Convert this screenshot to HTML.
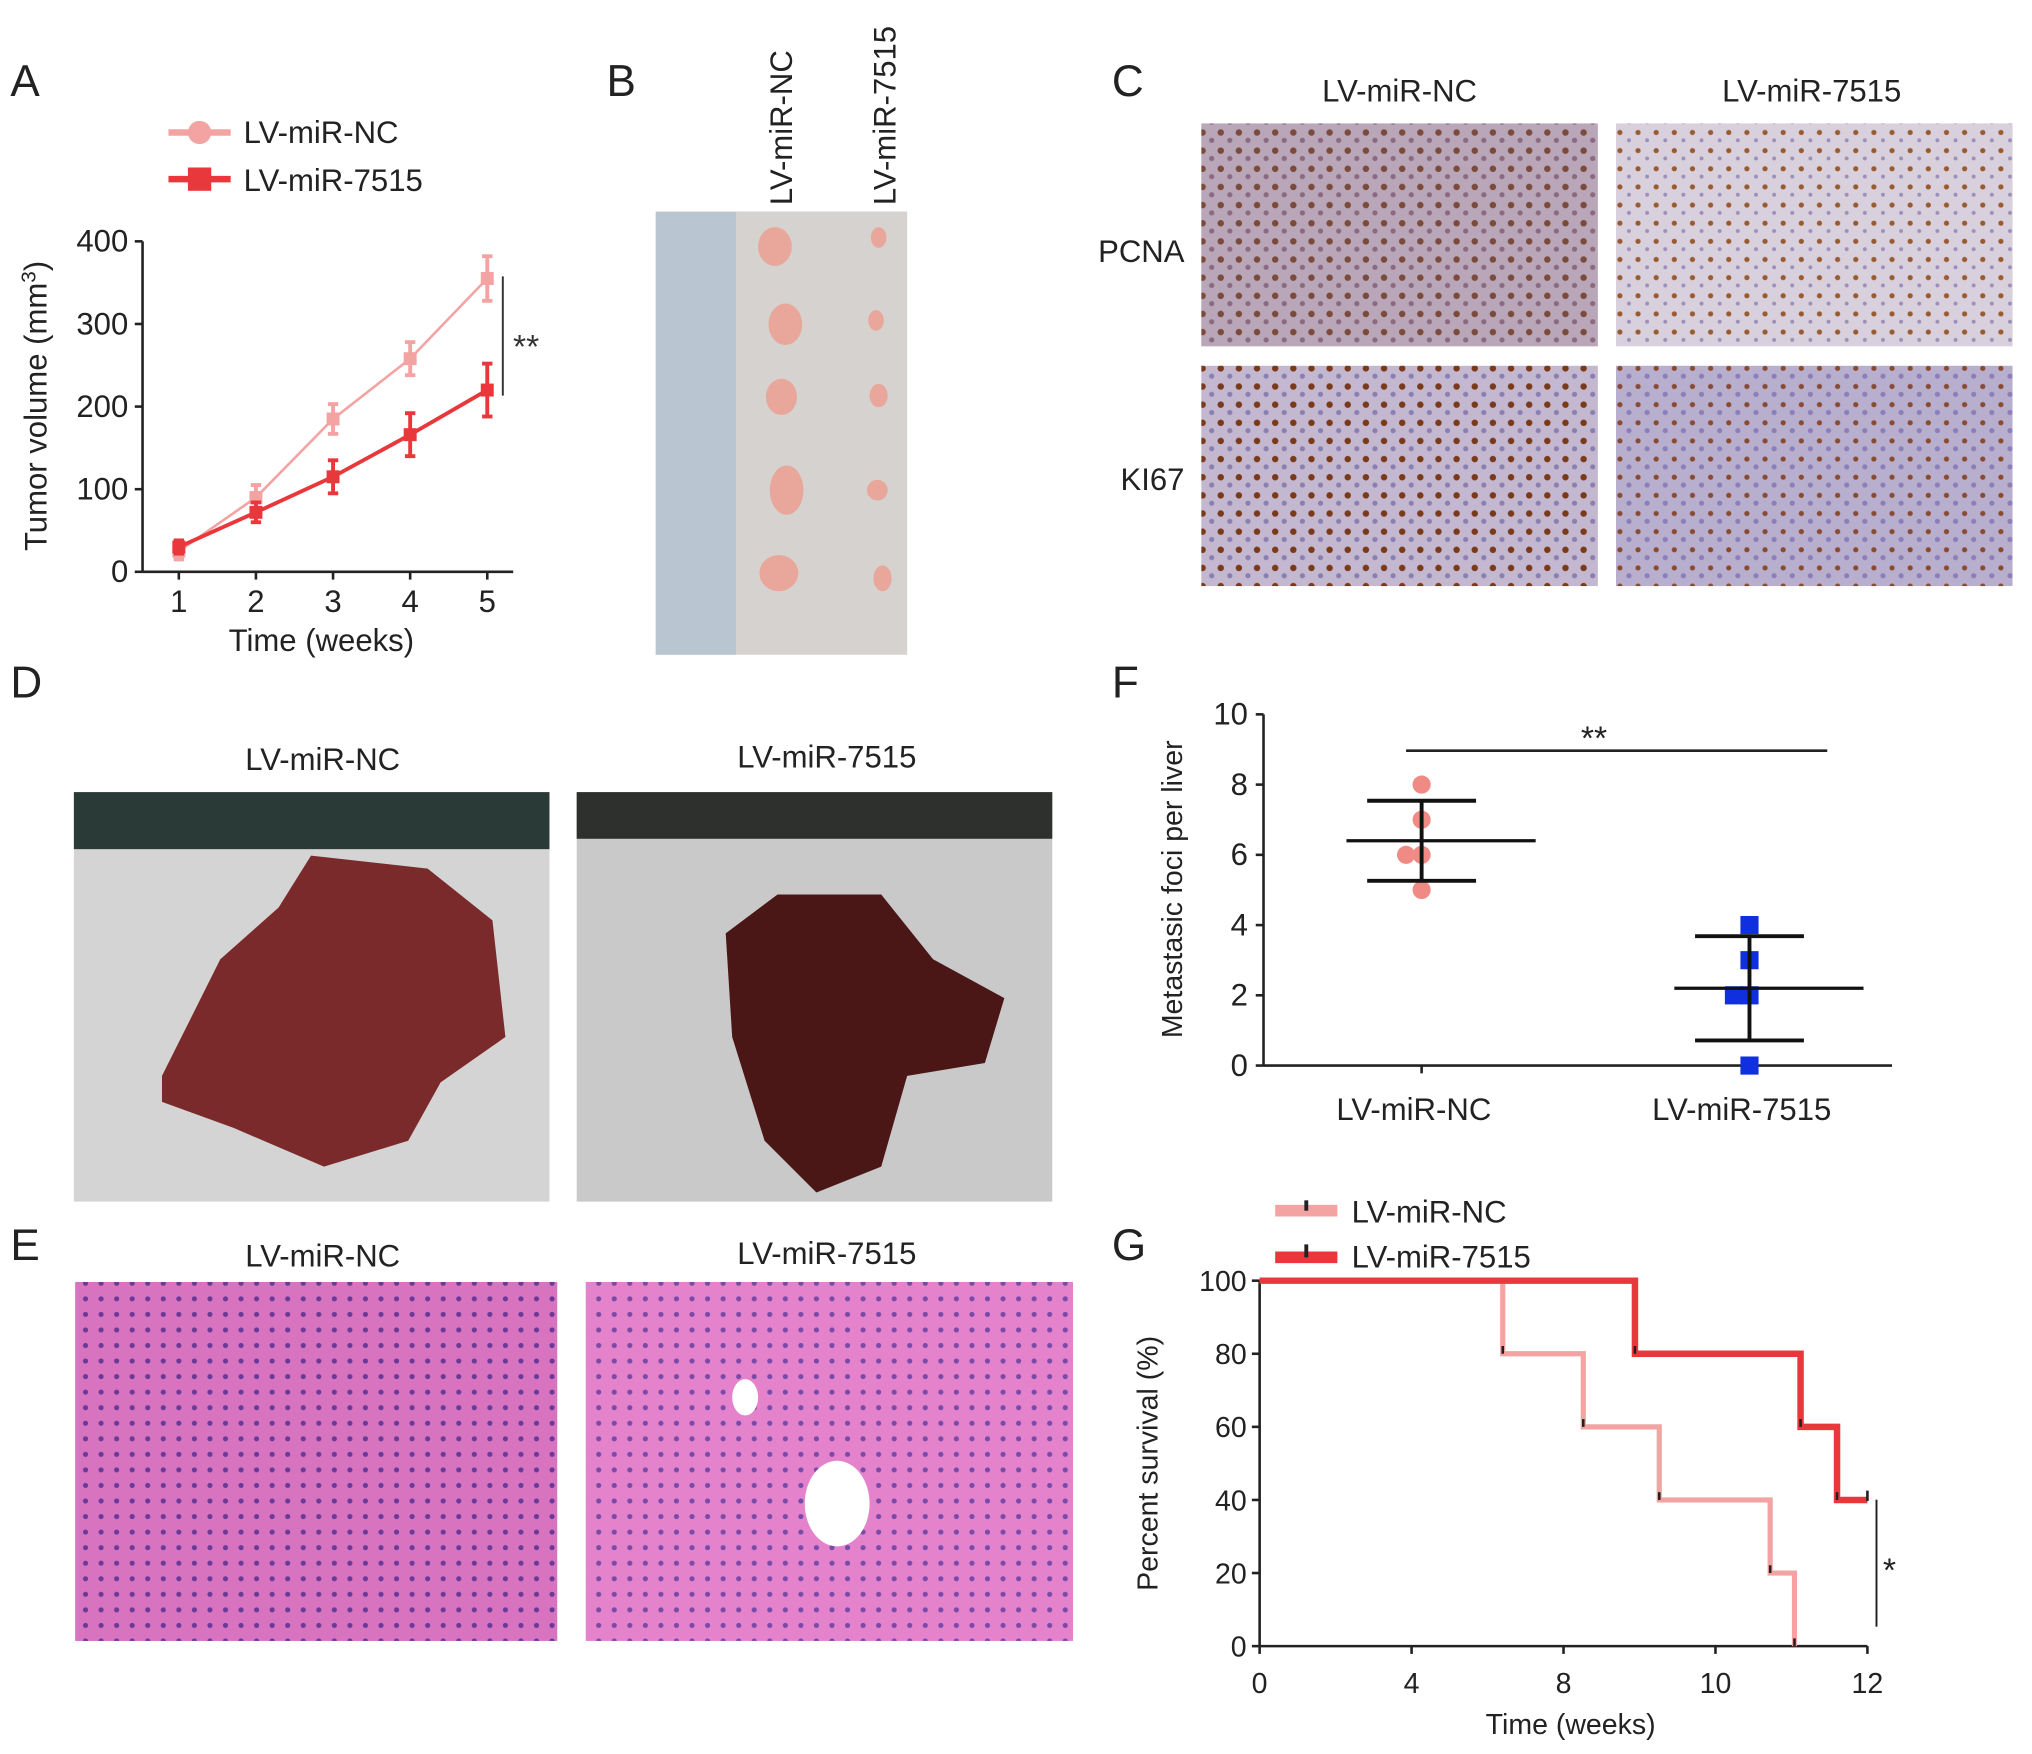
<!DOCTYPE html>
<html><head><meta charset="utf-8"><style>
html,body{margin:0;padding:0;background:#fff}
svg{display:block;font-family:"Liberation Sans",Arial,sans-serif}
</style></head><body>
<svg id="fig" width="2032" height="1754" viewBox="0 0 1568 1353" xmlns="http://www.w3.org/2000/svg">
<defs>
<pattern id="ihc1" width="14" height="14" patternUnits="userSpaceOnUse"><rect width="14" height="14" fill="#b9a6b8"/><circle cx="4" cy="4" r="2.5" fill="#7a4a3a"/><circle cx="11" cy="10" r="2" fill="#8a6a80"/></pattern>
<pattern id="ihc2" width="14" height="14" patternUnits="userSpaceOnUse"><rect width="14" height="14" fill="#d8d0dc"/><circle cx="4" cy="4" r="2" fill="#9a5a30"/><circle cx="11" cy="10" r="1.5" fill="#9a90b8"/></pattern>
<pattern id="ihc3" width="14" height="14" patternUnits="userSpaceOnUse"><rect width="14" height="14" fill="#c4b8d0"/><circle cx="4" cy="4" r="2.5" fill="#7a3a1a"/><circle cx="11" cy="10" r="2" fill="#8a80b0"/></pattern>
<pattern id="ihc4" width="14" height="14" patternUnits="userSpaceOnUse"><rect width="14" height="14" fill="#b8aece"/><circle cx="4" cy="4" r="2" fill="#8a4a30"/><circle cx="11" cy="10" r="2" fill="#8a80b8"/></pattern>
<pattern id="he" width="12" height="12" patternUnits="userSpaceOnUse"><rect width="12" height="12" fill="#d873c0"/><circle cx="6" cy="6" r="2" fill="#6a3a98"/></pattern>
<pattern id="he2" width="12" height="12" patternUnits="userSpaceOnUse"><rect width="12" height="12" fill="#e483cc"/><circle cx="6" cy="6" r="2" fill="#7a4aa8"/></pattern>
</defs>

<!-- panel letters -->
<g font-size="34" fill="#222">
<text x="8" y="74">A</text><text x="468" y="74">B</text><text x="858" y="74">C</text>
<text x="8" y="538">D</text><text x="858" y="538">F</text>
<text x="8" y="972">E</text><text x="858" y="972">G</text>
</g>

<!-- Panel A chart -->
<g id="chartA"></g>

<!-- Panel B photo -->
<g>
<rect x="506" y="163" width="194" height="342" fill="#d6d2cf"/>
<rect x="506" y="163" width="62" height="342" fill="#b9c6d2"/>
<g fill="#e8a79a">
<ellipse cx="598" cy="190" rx="13" ry="15"/><ellipse cx="678" cy="183" rx="6" ry="8"/>
<ellipse cx="606" cy="250" rx="13" ry="16"/><ellipse cx="676" cy="247" rx="6" ry="8"/>
<ellipse cx="603" cy="306" rx="12" ry="14"/><ellipse cx="678" cy="305" rx="7" ry="9"/>
<ellipse cx="607" cy="378" rx="13" ry="19"/><ellipse cx="677" cy="378" rx="8" ry="8"/>
<ellipse cx="601" cy="442" rx="15" ry="14"/><ellipse cx="681" cy="446" rx="7" ry="10"/>
</g>
<text transform="translate(611,158) rotate(-90)" font-size="24" fill="#222">LV-miR-NC</text>
<text transform="translate(691,158) rotate(-90)" font-size="24" fill="#222">LV-miR-7515</text>
</g>

<!-- Panel C -->
<g>
<text x="1080" y="78" font-size="24" text-anchor="middle" fill="#222">LV-miR-NC</text>
<text x="1398" y="78" font-size="24" text-anchor="middle" fill="#222">LV-miR-7515</text>
<text x="914" y="202" font-size="24" text-anchor="end" fill="#222">PCNA</text>
<text x="914" y="378" font-size="24" text-anchor="end" fill="#222">KI67</text>
<rect x="927" y="95" width="306" height="172" fill="url(#ihc1)"/>
<rect x="1247" y="95" width="306" height="172" fill="url(#ihc2)"/>
<rect x="927" y="282" width="306" height="170" fill="url(#ihc3)"/>
<rect x="1247" y="282" width="306" height="170" fill="url(#ihc4)"/>
</g>

<!-- Panel D -->
<g>
<text x="249" y="594" font-size="24" text-anchor="middle" fill="#222">LV-miR-NC</text>
<text x="638" y="592" font-size="24" text-anchor="middle" fill="#222">LV-miR-7515</text>
<rect x="57" y="611" width="367" height="316" fill="#d4d4d4"/>
<rect x="57" y="611" width="367" height="44" fill="#2a3a36"/>
<rect x="445" y="611" width="367" height="316" fill="#c9c9c9"/>
<rect x="445" y="611" width="367" height="36" fill="#2e302e"/>
<path d="M125,830 L170,740 L215,700 L240,660 L330,670 L380,710 L390,800 L340,835 L315,880 L250,900 L180,870 L125,850 Z" fill="#7a2a2a"/>
<path d="M560,720 L600,690 L680,690 L720,740 L775,770 L760,820 L700,830 L680,900 L630,920 L590,880 L565,800 Z" fill="#4a1616"/>
</g>

<!-- Panel E -->
<g>
<text x="249" y="977" font-size="24" text-anchor="middle" fill="#222">LV-miR-NC</text>
<text x="638" y="975" font-size="24" text-anchor="middle" fill="#222">LV-miR-7515</text>
<rect x="58" y="989" width="372" height="277" fill="url(#he)"/>
<rect x="452" y="989" width="376" height="277" fill="url(#he2)"/>
<ellipse cx="646" cy="1160" rx="25" ry="33" fill="#fff"/>
<ellipse cx="575" cy="1078" rx="10" ry="14" fill="#fff"/>
</g>

<g id="chartF"></g>
<g id="chartG"></g>
</svg>
<script>
const NS='http://www.w3.org/2000/svg';
function mk(p,tag,at,txt){const e=document.createElementNS(NS,tag);for(const k in at)e.setAttribute(k,at[k]);if(txt!==undefined)e.textContent=txt;p.appendChild(e);return e;}

// ---------- Panel A data ----------
const weeksA=[1,2,3,4,5];
const ncVol=[25,90,185,258,355];
const ncErr=[10,15,18,20,27];
const mirVol=[30,72,115,166,220];
const mirErr=[8,12,20,26,32];
const yTicksA=[0,100,200,300,400];
(function(){
const g=document.getElementById('chartA');
const x=v=>138+(v-1)*59.5, y=v=>441-v*0.6375;
mk(g,'line',{x1:110,y1:186,x2:110,y2:441,stroke:'#222','stroke-width':2});
mk(g,'line',{x1:110,y1:441,x2:396,y2:441,stroke:'#222','stroke-width':2});
yTicksA.forEach(t=>{mk(g,'line',{x1:104,y1:y(t),x2:110,y2:y(t),stroke:'#222','stroke-width':2});
const l=mk(g,'text',{x:99,y:y(t)+8,'font-size':24,'text-anchor':'end',fill:'#222'},String(t));

});
weeksA.forEach(w=>{mk(g,'line',{x1:x(w),y1:441,x2:x(w),y2:447,stroke:'#222','stroke-width':2});
const l=mk(g,'text',{x:x(w),y:472,'font-size':24,'text-anchor':'middle',fill:'#222'},String(w));

});
const xt=mk(g,'text',{x:248,y:502,'font-size':24,'text-anchor':'middle',fill:'#222'},'Time (weeks)');


const yt=mk(g,'text',{transform:'translate(36,313) rotate(-90)','font-size':24,'text-anchor':'middle',fill:'#222'},'Tumor volume (mm');


mk(yt,'tspan',{'baseline-shift':'super','font-size':16},'3');
yt.appendChild(document.createTextNode(')'));
[[ncVol,ncErr,'#f4a3a3',2,'circle'],[mirVol,mirErr,'#e8383c',3,'square']].forEach(([v,e,c,w,m],si)=>{
 const s=mk(g,'g',{});
 
 
 mk(s,'polyline',{points:weeksA.map((wk,i)=>x(wk)+','+y(v[i])).join(' '),fill:'none',stroke:c,'stroke-width':w});
 weeksA.forEach((wk,i)=>{const X=x(wk);
  mk(s,'line',{x1:X,y1:y(v[i]-e[i]),x2:X,y2:y(v[i]+e[i]),stroke:c,'stroke-width':3});
  mk(s,'line',{x1:X-4,y1:y(v[i]-e[i]),x2:X+4,y2:y(v[i]-e[i]),stroke:c,'stroke-width':3});
  mk(s,'line',{x1:X-4,y1:y(v[i]+e[i]),x2:X+4,y2:y(v[i]+e[i]),stroke:c,'stroke-width':3});
  mk(s,'rect',{x:X-5,y:y(v[i])-5,width:10,height:10,fill:c});});
});
mk(g,'line',{x1:388,y1:213,x2:388,y2:305,stroke:'#333','stroke-width':1.5});
mk(g,'text',{x:406,y:276,'font-size':26,'text-anchor':'middle',fill:'#333'},'**');
// legend
mk(g,'line',{x1:130,y1:102,x2:178,y2:102,stroke:'#f4a3a3','stroke-width':5});
mk(g,'circle',{cx:154,cy:102,r:9,fill:'#f4a3a3'});
mk(g,'line',{x1:130,y1:138,x2:178,y2:138,stroke:'#e8383c','stroke-width':5});
mk(g,'rect',{x:145,y:129,width:18,height:18,fill:'#e8383c'});
const l1=mk(g,'text',{x:188,y:110,'font-size':24,fill:'#222'},'LV-miR-NC');


const l2=mk(g,'text',{x:188,y:147,'font-size':24,fill:'#222'},'LV-miR-7515');


})();

// ---------- Panel F data ----------
const groupsF=['LV-miR-NC','LV-miR-7515'];
const ncFoci=[8,7,6,6,5];
const mirFoci=[4,3,2,2,0];
const yTicksF=[0,2,4,6,8,10];
(function(){
const g=document.getElementById('chartF');
const y=v=>822-v*27.1, cx=[1097,1350];
mk(g,'line',{x1:975,y1:551,x2:975,y2:822,stroke:'#222','stroke-width':2});
mk(g,'line',{x1:975,y1:822,x2:1460,y2:822,stroke:'#222','stroke-width':2});
yTicksF.forEach(t=>{mk(g,'line',{x1:969,y1:y(t),x2:975,y2:y(t),stroke:'#222','stroke-width':2});
const l=mk(g,'text',{x:963,y:y(t)+8,'font-size':24,'text-anchor':'end',fill:'#222'},String(t));

});
groupsF.forEach((n,i)=>{mk(g,'line',{x1:cx[i],y1:822,x2:cx[i],y2:828,stroke:'#222','stroke-width':2});
const l=mk(g,'text',{x:cx[i]-6,y:864,'font-size':24,'text-anchor':'middle',fill:'#222'},n);

});
const yt=mk(g,'text',{transform:'translate(912,686) rotate(-90)','font-size':22,'text-anchor':'middle',fill:'#222'},'Metastasic foci per liver');


[[ncFoci,'#f08a84','c'],[mirFoci,'#1030e0','s']].forEach(([d,c,m],i)=>{
 const X=cx[i];
 const mean=d.reduce((a,b)=>a+b,0)/d.length;
 const sd=Math.sqrt(d.reduce((a,b)=>a+(b-mean)**2,0)/(d.length-1));
 const seen={};
 d.forEach(v=>{const k=seen[v]||0;seen[v]=k+1;
  const off=k===0?0:(k%2?-12:12);
  let p;
  if(m==='c')p=mk(g,'circle',{cx:X+off,cy:y(v),r:7,fill:c});
  else p=mk(g,'rect',{x:X+off-7,y:y(v)-7,width:14,height:14,fill:c});
  
  });
 mk(g,'line',{x1:X-58,y1:y(mean),x2:X+88,y2:y(mean),stroke:'#111','stroke-width':2.5});
 mk(g,'line',{x1:X,y1:y(mean-sd),x2:X,y2:y(mean+sd),stroke:'#111','stroke-width':3});
 mk(g,'line',{x1:X-42,y1:y(mean-sd),x2:X+42,y2:y(mean-sd),stroke:'#111','stroke-width':3});
 mk(g,'line',{x1:X-42,y1:y(mean+sd),x2:X+42,y2:y(mean+sd),stroke:'#111','stroke-width':3});
});
mk(g,'line',{x1:1085,y1:579,x2:1410,y2:579,stroke:'#222','stroke-width':2});
mk(g,'text',{x:1230,y:578,'font-size':26,'text-anchor':'middle',fill:'#222'},'**');
})();

// ---------- Panel G data ----------
const xTickLabelsG=['0','4','8','10','12'];
const ncSteps=[1.60,2.13,2.63,3.36,3.52];
const ncSurv=[80,60,40,20,0];
const mirSteps=[2.47,3.56,3.80];
const mirSurv=[80,60,40];
(function(){
const g=document.getElementById('chartG');
const x=v=>972+v*117.25, y=v=>1270-v*2.82;
mk(g,'line',{x1:972,y1:988,x2:972,y2:1270,stroke:'#222','stroke-width':2});
mk(g,'line',{x1:972,y1:1270,x2:1441,y2:1270,stroke:'#222','stroke-width':2});
[0,20,40,60,80,100].forEach(t=>{mk(g,'line',{x1:966,y1:y(t),x2:972,y2:y(t),stroke:'#222','stroke-width':2});
const l=mk(g,'text',{x:962,y:y(t)+8,'font-size':22,'text-anchor':'end',fill:'#222'},String(t));

});
xTickLabelsG.forEach((t,i)=>{mk(g,'line',{x1:x(i),y1:1270,x2:x(i),y2:1276,stroke:'#222','stroke-width':2});
const l=mk(g,'text',{x:x(i),y:1306,'font-size':22,'text-anchor':'middle',fill:'#222'},t);

});
const xt=mk(g,'text',{x:1212,y:1338,'font-size':22,'text-anchor':'middle',fill:'#222'},'Time (weeks)');


const yt=mk(g,'text',{transform:'translate(893,1129) rotate(-90)','font-size':22,'text-anchor':'middle',fill:'#222'},'Percent survival (%)');


function km(steps,surv,end,c,w,name){
 let pts=[[x(0),y(100)]],prev=100;
 steps.forEach((s,i)=>{pts.push([x(s),y(prev)]);pts.push([x(s),y(surv[i])]);prev=surv[i];});
 if(end>steps[steps.length-1])pts.push([x(end),y(prev)]);
 const p=mk(g,'polyline',{points:pts.map(q=>q.join(',')).join(' '),fill:'none',stroke:c,'stroke-width':w});
 
 
 steps.forEach((s,i)=>mk(g,'line',{x1:x(s),y1:y(surv[i])-6,x2:x(s),y2:y(surv[i]),stroke:'#222','stroke-width':2}));
}
km(ncSteps,ncSurv,ncSteps[ncSteps.length-1],'#f4a3a3',4,'survival-line-nc');
km(mirSteps,mirSurv,4,'#e8383c',5,'survival-line-7515');
mk(g,'line',{x1:1441,y1:1150,x2:1441,y2:1158,stroke:'#222','stroke-width':2});
mk(g,'line',{x1:1448,y1:1157,x2:1448,y2:1255,stroke:'#222','stroke-width':1.5});
mk(g,'text',{x:1458,y:1220,'font-size':26,'text-anchor':'middle',fill:'#222'},'*');
mk(g,'line',{x1:984,y1:934,x2:1032,y2:934,stroke:'#f4a3a3','stroke-width':9});
mk(g,'line',{x1:1008,y1:926,x2:1008,y2:934,stroke:'#222','stroke-width':3});
mk(g,'line',{x1:984,y1:970,x2:1032,y2:970,stroke:'#e8383c','stroke-width':9});
mk(g,'line',{x1:1008,y1:960,x2:1008,y2:970,stroke:'#222','stroke-width':3});
const l1=mk(g,'text',{x:1043,y:943,'font-size':24,fill:'#222'},'LV-miR-NC');


const l2=mk(g,'text',{x:1043,y:978,'font-size':24,fill:'#222'},'LV-miR-7515');


})();
</script>
</body></html>
